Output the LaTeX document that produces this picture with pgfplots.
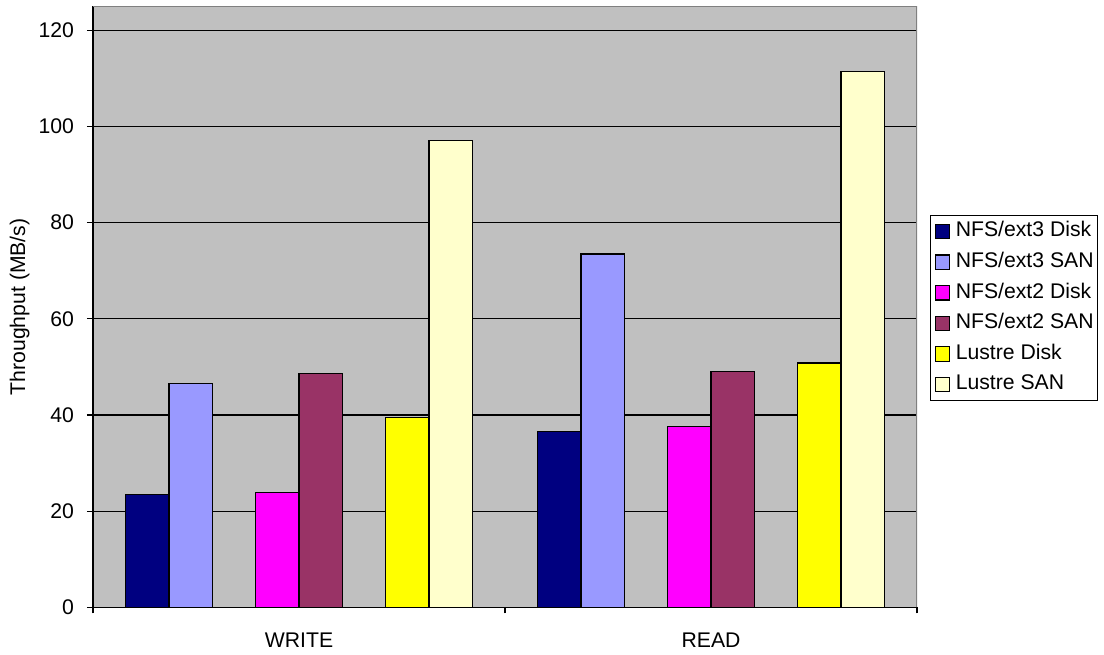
\documentclass[border=0pt]{standalone}
\usepackage{pgfplots}
\pgfplotsset{compat=1.18}
\usepackage{fontspec}
\setmainfont{Liberation Sans}
\definecolor{sA}{RGB}{0,0,128}
\definecolor{sB}{RGB}{153,153,255}
\definecolor{sC}{RGB}{255,0,255}
\definecolor{sD}{RGB}{153,51,102}
\definecolor{sE}{RGB}{255,255,0}
\definecolor{sF}{RGB}{255,255,204}
\definecolor{plotbg}{RGB}{192,192,192}
\definecolor{frame}{RGB}{128,128,128}
\newcommand{\ff}{\fontsize{10.6}{12}\selectfont}
\begin{document}
\begin{tikzpicture}
\path (0,0) rectangle (552pt,326.5pt);
\begin{axis}[
  at={(46.5pt,22.85pt)}, anchor=south west,
  scale only axis, width=412pt, height=300.5pt,
  xmin=-0.5, xmax=1.5, ymin=0, ymax=125,
  axis x line*=bottom, axis y line*=left,
  axis line style={black, line width=0.6pt},
  axis background/.style={fill=plotbg},
  ytick={0,20,...,120},
  ymajorgrids, grid style={black, line width=0.6pt},
  tick align=outside, major tick length=3pt,
  tick style={black, line width=0.6pt},
  xtick={-0.5,0.5,1.5}, xticklabels={},
  extra x ticks={0,1}, extra x tick labels={WRITE,READ},
  extra x tick style={grid=none, major tick length=0pt, tick style={draw=none},
    xticklabel style={yshift=-9.5pt}},
  /pgf/number format/assume math mode=true,
  tick label style={font=\ff},
  yticklabel style={xshift=-3pt},
  ylabel={Throughput (MB/s)},
  ylabel style={font=\ff, at={(axis description cs:-0.089,0.5)}, anchor=center},
  ybar, bar width=0.1051,
  every axis plot/.append style={draw=black, line width=0.6pt},
  legend style={at={(1.0158,0.6527)}, anchor=north west, draw=black, fill=white,
    line width=0.6pt, font=\ff, inner xsep=2pt, inner ysep=3pt, row sep=5.3pt,
    nodes={inner sep=0pt, text height=7.6pt, text depth=2.4pt}},
  legend cell align=left,
  legend image code/.code={\draw[#1, line width=0.6pt] (0pt,-3.6pt) rectangle (7.2pt,3.6pt); \path (10pt,0pt);},
]
\addplot[fill=sA, bar shift=-0.3679] coordinates {(0,23.5) (1,36.5)};
\addplot[fill=sB, bar shift=-0.2628] coordinates {(0,46.5) (1,73.5)};
\addplot[fill=sC, bar shift=-0.0526] coordinates {(0,23.9) (1,37.6)};
\addplot[fill=sD, bar shift=0.0526] coordinates {(0,48.6) (1,49.0)};
\addplot[fill=sE, bar shift=0.2628] coordinates {(0,39.5) (1,50.8)};
\addplot[fill=sF, bar shift=0.3679] coordinates {(0,97.1) (1,111.5)};
\legend{NFS/ext3 Disk,NFS/ext3 SAN,NFS/ext2 Disk,NFS/ext2 SAN,Lustre Disk,Lustre SAN}
\draw[frame, line width=0.8pt] (rel axis cs:0,1) -- (rel axis cs:1,1) -- (rel axis cs:1,0);
\end{axis}
\end{tikzpicture}
\end{document}
